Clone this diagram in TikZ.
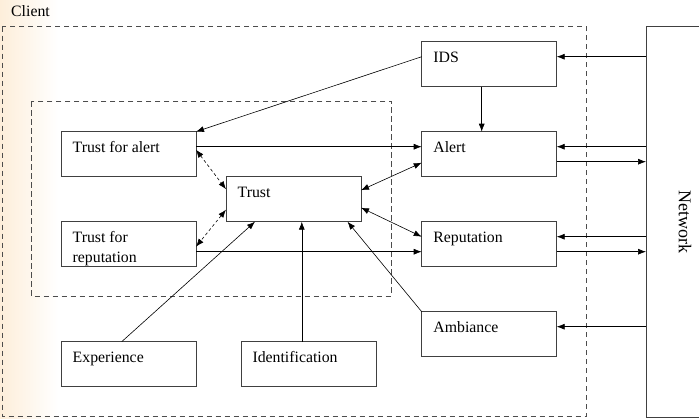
\documentclass[tikz,border=0pt]{standalone}
\usepackage{fontspec}
\setmainfont{Liberation Serif}
\usetikzlibrary{arrows.meta,calc}
\definecolor{peach}{RGB}{253,238,218}
\begin{document}
\begin{tikzpicture}[x=1pt,y=-1pt,
  box/.style={draw=black!75, line width=0.9pt, minimum width=135pt, minimum height=45pt, inner sep=0pt, outer sep=0pt},
  lbl/.style={anchor=base west, inner sep=0pt, font=\fontsize{15.8}{19.5}\selectfont, align=left},
  arr/.style={-{Latex[length=8pt,width=6pt]}, line width=0.6pt},
  darr/.style={{Latex[length=8pt,width=6pt]}-{Latex[length=8pt,width=6pt]}, line width=0.6pt},
  dsharr/.style={darr, dash pattern=on 3pt off 2.5pt},
  group/.style={draw=black!70, line width=0.8pt, dash pattern=on 5.5pt off 3.5pt},
]
\clip (0,0) rectangle (699,418);
% soft tint along the left margin
\fill[left color=peach, right color=white] (0,0) rectangle (58,418);

% client and trust groupings
\draw[group] (2,26.7) rectangle (586.7,416);
\draw[group] (31.7,101) rectangle (391.5,296);
\node[lbl, font=\fontsize{15.8}{19}\selectfont] (client) at (11,16.7) {Client};

% blocks
\node[box] (ids)   at (489.2,64.2)  {};
\node[box] (alert) at (489.2,154.2) {};
\node[box] (rep)   at (489.2,244.2) {};
\node[box] (amb)   at (489.2,334.2) {};
\node[box] (tfa)   at (128.5,154.2) {};
\node[box] (tfr)   at (128.5,244.2) {};
\node[box] (trust) at (293.5,199.2) {};
\node[box] (exp)   at (128.5,364.2) {};
\node[box] (ident) at (308.8,364.2) {};
\node[draw=black!75, line width=0.9pt, minimum width=78pt, minimum height=390.6pt, inner sep=0pt, outer sep=0pt,
      font=\fontsize{18}{20}\selectfont] (net) at (685,222) {\rotatebox{-90}{Network}};

% block labels
\node[lbl] (idsT)   at ($(ids.north west)+(11.5,21)$)   {IDS};
\node[lbl] (alertT) at ($(alert.north west)+(11.5,21)$) {Alert};
\node[lbl] (repT)   at ($(rep.north west)+(11.5,21)$)   {Reputation};
\node[lbl] (ambT)   at ($(amb.north west)+(11.5,21)$)   {Ambiance};
\node[lbl] (tfaT)   at ($(tfa.north west)+(11.5,21)$)   {Trust for alert};
\node[lbl] (tfrT)   at ($(tfr.north west)+(11.5,40.5)$) {Trust for\\reputation};
\node[lbl] (trustT) at ($(trust.north west)+(11.5,21)$) {Trust};
\node[lbl] (expT)   at ($(exp.north west)+(11.5,21)$)   {Experience};
\node[lbl] (identT) at ($(ident.north west)+(11,21)$)   {Identification};

% attachment points
\coordinate (idsE)   at ([yshift=7.5pt]ids.east);
\coordinate (idsW)   at ([yshift=7.5pt]ids.west);
\coordinate (alertE1) at ([yshift=7.5pt]alert.east);
\coordinate (alertE2) at ([yshift=-7.5pt]alert.east);
\coordinate (repE1)  at ([yshift=7.5pt]rep.east);
\coordinate (repE2)  at ([yshift=-7.5pt]rep.east);
\coordinate (ambE)   at ([yshift=7.5pt]amb.east);
\coordinate (identN) at ([xshift=-7pt]ident.north);

% network links
\draw[arr] (idsE -| net.west) -- (idsE);
\draw[arr] (alertE1 -| net.west) -- (alertE1);
\draw[arr] (alertE2) -- (alertE2 -| net.west);
\draw[arr] (repE1 -| net.west) -- (repE1);
\draw[arr] (repE2) -- (repE2 -| net.west);
\draw[arr] (ambE -| net.west) -- (ambE);

% internal links
\draw[arr] (idsW) -- (tfa.north east);
\draw[arr] ([xshift=-7.5pt]ids.south) -- ([xshift=-7.5pt]alert.north);
\draw[arr] ([yshift=7.5pt]tfa.east) -- ([yshift=7.5pt]alert.west);
\draw[arr] ([yshift=-7.5pt]tfr.east) -- ([yshift=-7.5pt]rep.west);
\draw[darr] ([yshift=9pt]trust.east) -- ([yshift=-8.5pt]alert.west);
\draw[darr] ([yshift=-8.5pt]trust.east) -- ([yshift=7.5pt]rep.west);
\draw[dsharr] ([yshift=4.5pt]tfa.east) -- ([yshift=10pt]trust.west);
\draw[dsharr] ([yshift=-10.5pt]trust.west) -- ([yshift=-2.5pt]tfr.east);
\draw[arr] (amb.north west) -- ([xshift=-13.5pt]trust.south east);
\draw[arr] (identN) -- (identN |- trust.south);
\draw[arr] ([xshift=-6.8pt]exp.north) -- ([xshift=-38.5pt]trust.south);
\end{tikzpicture}
\end{document}
